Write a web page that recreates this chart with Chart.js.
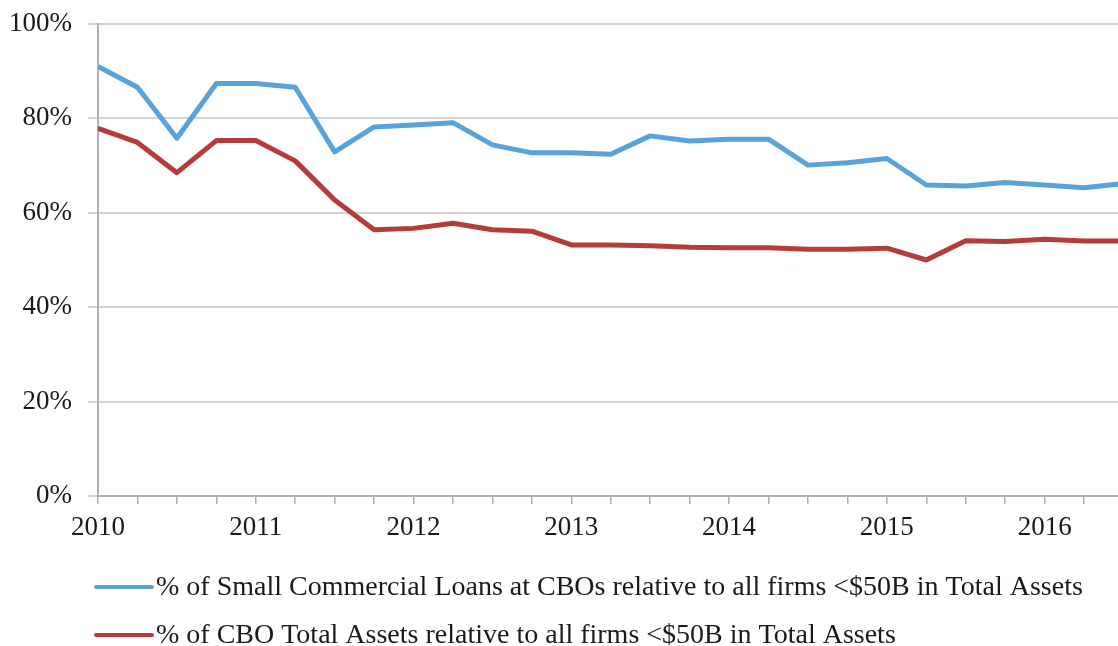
<!DOCTYPE html>
<html>
<head>
<meta charset="utf-8">
<script src="https://cdn.jsdelivr.net/npm/chart.js@4"></script>
<style>
  html, body { margin: 0; padding: 0; background: #fff; overflow: hidden; }
  #wrap { position: relative; width: 1118px; height: 646px; }
</style>
</head>
<body>
<div id="wrap"><canvas id="chart"></canvas></div>
<script>
// quarterly series, 2010 Q1 .. 2016 Q3
const quarters = [
  '2010 Q1','2010 Q2','2010 Q3','2010 Q4',
  '2011 Q1','2011 Q2','2011 Q3','2011 Q4',
  '2012 Q1','2012 Q2','2012 Q3','2012 Q4',
  '2013 Q1','2013 Q2','2013 Q3','2013 Q4',
  '2014 Q1','2014 Q2','2014 Q3','2014 Q4',
  '2015 Q1','2015 Q2','2015 Q3','2015 Q4',
  '2016 Q1','2016 Q2','2016 Q3'
];
const yearLabels = ['2010','2011','2012','2013','2014','2015','2016'];
const yTicks = [0, 20, 40, 60, 80, 100];

const smallLoansShare = [91.0, 86.6, 75.8, 87.4, 87.4, 86.6, 72.9, 78.2, 78.6, 79.1, 74.4, 72.7, 72.7, 72.4,
                         76.3, 75.2, 75.6, 75.6, 70.1, 70.6, 71.5, 65.9, 65.7, 66.4, 65.9, 65.3, 66.2];
const totalAssetsShare = [77.9, 74.9, 68.5, 75.3, 75.3, 71.0, 62.7, 56.4, 56.7, 57.8, 56.4, 56.1, 53.2, 53.2,
                          53.0, 52.7, 52.6, 52.6, 52.3, 52.3, 52.5, 50.0, 54.1, 53.9, 54.4, 54.0, 54.0];

const seriesNames = [
  '% of Small Commercial Loans at CBOs relative to all firms <$50B in Total Assets',
  '% of CBO Total Assets relative to all firms <$50B in Total Assets'
];

const FONT = "'Liberation Serif', 'Times New Roman', serif";
const toPoints = (arr) => arr.map((v, i) => ({ x: i, y: v }));

// legend drawn by hand so the key lines sit under the axis like the original
const lineLegend = {
  id: 'lineLegend',
  afterDraw(chart) {
    const ctx = chart.ctx;
    ctx.save();
    ctx.font = `28px ${FONT}`;
    ctx.textBaseline = 'middle';
    ctx.textAlign = 'left';
    chart.data.datasets.forEach((ds, i) => {
      const y = 587 + i * 48;
      ctx.strokeStyle = ds.borderColor;
      ctx.lineWidth = 4;
      ctx.lineCap = 'round';
      ctx.beginPath();
      ctx.moveTo(96, y);
      ctx.lineTo(152, y);
      ctx.stroke();
      ctx.fillStyle = '#1a1a1a';
      ctx.fillText(ds.label, 156, y + 1);
    });
    ctx.restore();
  }
};

new Chart(document.getElementById('chart'), {
  type: 'line',
  data: {
    datasets: [
      {
        label: seriesNames[0],
        data: toPoints(smallLoansShare),
        borderColor: '#58a3da',
        backgroundColor: '#58a3da',
        borderWidth: 5,
        pointRadius: 0,
        tension: 0,
        borderJoinStyle: 'round'
      },
      {
        label: seriesNames[1],
        data: toPoints(totalAssetsShare),
        borderColor: '#b63c3b',
        backgroundColor: '#b63c3b',
        borderWidth: 5,
        pointRadius: 0,
        tension: 0,
        borderJoinStyle: 'round'
      }
    ]
  },
  options: {
    responsive: true,
    maintainAspectRatio: false,
    animation: false,
    layout: { padding: { top: 24, right: 0, left: 0, bottom: 0 } },
    plugins: {
      legend: { display: false },
      tooltip: { enabled: false }
    },
    scales: {
      x: {
        type: 'linear',
        min: 0,
        max: 25.86,
        afterFit: (s) => { s.height = 150; },
        border: { display: true, color: '#b0b0b0', width: 2 },
        grid: { drawOnChartArea: false, drawTicks: true, tickLength: 8, color: '#b0b0b0', lineWidth: 1.5 },
        ticks: {
          stepSize: 1,
          includeBounds: false,
          autoSkip: false,
          maxRotation: 0,
          padding: 8,
          color: '#1a1a1a',
          font: { family: FONT, size: 27 },
          callback: (v) => (v % 4 === 0 ? yearLabels[v / 4] : '')
        }
      },
      y: {
        min: 0,
        max: 100,
        afterFit: (s) => { s.width = 98; s.paddingTop = 0; s.paddingBottom = 0; },
        afterBuildTicks: (s) => { s.ticks = yTicks.map((v) => ({ value: v })); },
        border: { display: true, color: '#b0b0b0', width: 2 },
        grid: { color: '#d2d2d2', lineWidth: 2, tickLength: 10 },
        ticks: {
          padding: 16,
          color: '#1a1a1a',
          font: { family: FONT, size: 27 },
          callback: (v) => v + '%'
        }
      }
    }
  },
  plugins: [lineLegend]
});
</script>
</body>
</html>
